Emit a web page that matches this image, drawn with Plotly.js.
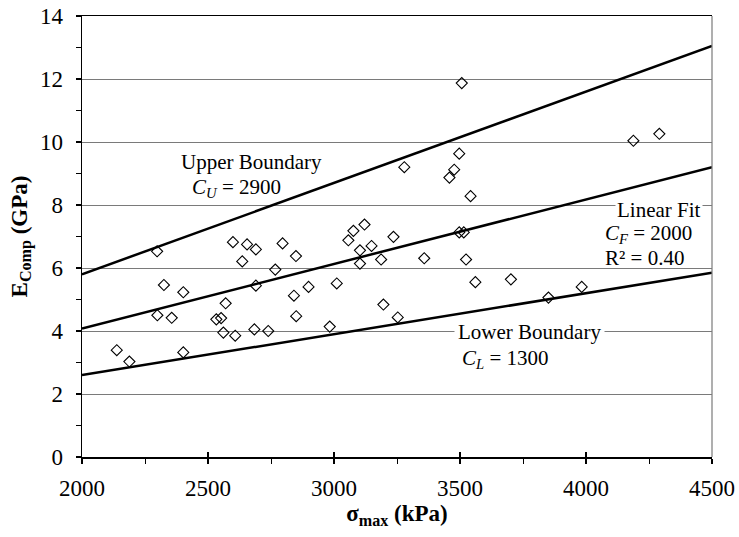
<!DOCTYPE html>
<html><head><meta charset="utf-8">
<script src="https://cdn.plot.ly/plotly-3.0.1.min.js"></script>
<style>html,body{margin:0;padding:0;background:#fff}#chart{width:739px;height:537px}</style>
</head><body><div id="chart"></div>
<script>
// Measured data: sigma_max (kPa) vs E_Comp (GPa)
const sigmaMax = [2138,2188,2298,2299,2325,2356,2402,2402,2533,2552,2561,2570,2599,2608,2636,2655,2684,2690,2690,2739,2767,2796,2841,2849,2850,2899,2983,3011,3057,3077,3103,3103,3121,3149,3187,3196,3236,3253,3279,3358,3458,3477,3497,3497,3507,3515,3524,3542,3561,3702,3851,3983,4188,4291];
const eComp   = [3.39,3.03,6.53,4.50,5.46,4.42,5.23,3.32,4.37,4.41,3.95,4.88,6.82,3.85,6.21,6.75,4.05,6.59,5.44,4.00,5.95,6.78,5.12,6.38,4.47,5.40,4.14,5.51,6.88,7.18,6.56,6.14,7.38,6.70,6.27,4.84,6.99,4.43,9.20,6.31,8.87,9.12,9.63,7.13,11.87,7.13,6.27,8.28,5.55,5.64,5.06,5.40,10.04,10.26];
// Boundary and fit lines (end points)
const lineX = [2000, 4500];
const upperY = [5.80, 13.05];
const fitY = [4.08, 9.20];
const lowerY = [2.60, 5.85];
const xTicks = [2000,2500,3000,3500,4000,4500];
const yTicks = [0,2,4,6,8,10,12,14];

const lineStyle = {color:'#000', width:2.5};
const traces = [
  {x:lineX, y:upperY, mode:'lines', line:lineStyle, hoverinfo:'skip'},
  {x:lineX, y:fitY, mode:'lines', line:lineStyle, hoverinfo:'skip'},
  {x:lineX, y:lowerY, mode:'lines', line:lineStyle, hoverinfo:'skip'},
  {x:sigmaMax, y:eComp, mode:'markers', marker:{symbol:'diamond-open', size:8.5, color:'#000', line:{width:1.1, color:'#000'}}},
  {x:[], y:[], xaxis:'x2', mode:'markers'}
];
const F = 'Liberation Serif';
const annFont = {family:F, size:21, color:'#000'};
const layout = {
  width:739, height:537,
  margin:{l:82, r:27, t:16, b:80},
  paper_bgcolor:'#fff', plot_bgcolor:'#fff',
  showlegend:false,
  font:{family:F, color:'#000'},
  xaxis:{
    range:[2000,4500], tickvals:xTicks, ticktext:xTicks.map(String),
    ticks:'outside', ticklen:5, tickwidth:1.2, tickcolor:'#000',
    minor:{dtick:250, ticks:'outside', ticklen:5, tickwidth:1, tickcolor:'#000', showgrid:false},
    showgrid:false, zeroline:false, showline:true, linecolor:'#000', linewidth:1.5, mirror:true,
    tickfont:{family:F, size:23, color:'#000'}, ticklabelstandoff:5,
    title:{text:'<b>σ<sub>max</sub> (kPa)</b>', font:{family:F, size:23, color:'#000'}, standoff:4}
  },
  xaxis2:{
    overlaying:'x', range:[2000,4500], tickvals:xTicks, showticklabels:false,
    ticks:'inside', ticklen:5, tickwidth:1.2, tickcolor:'#000', anchor:'y', side:'bottom',
    showgrid:false, zeroline:false, showline:false
  },
  yaxis:{
    range:[0,14], tickvals:yTicks, ticktext:yTicks.map(String),
    ticks:'outside', ticklen:5, tickwidth:1.2, tickcolor:'#000',
    minor:{dtick:1, ticks:'outside', ticklen:5, tickwidth:1, tickcolor:'#000', showgrid:false},
    showgrid:true, gridcolor:'#7a7a7a', gridwidth:1,
    zeroline:false, showline:true, linecolor:'#000', linewidth:1.5,
    tickfont:{family:F, size:23, color:'#000'}, ticklabelstandoff:8,
    title:{text:'<b>E<sub>Comp</sub> (GPa)</b>', font:{family:F, size:23, color:'#000'}, standoff:6}
  },
  shapes:[
    {type:'line', xref:'paper', yref:'paper', x0:1, x1:1, y0:0, y1:1, line:{color:'#7a7a7a', width:1.2}}
  ],
  annotations:[
    {x:2671, y:9.36, xref:'x', yref:'y', text:'Upper Boundary', showarrow:false, font:annFont, xanchor:'center'},
    {x:2429, y:8.53, xref:'x', yref:'y', text:'<i>C<sub>U</sub></i> = 2900', showarrow:false, font:annFont, xanchor:'left'},
    {x:4466, y:7.83, xref:'x', yref:'y', text:'Linear Fit', showarrow:false, font:annFont, xanchor:'right', bgcolor:'#fff'},
    {x:4427, y:7.07, xref:'x', yref:'y', text:'<i>C<sub>F</sub></i> = 2000', showarrow:false, font:annFont, xanchor:'right'},
    {x:4395, y:6.31, xref:'x', yref:'y', text:'R² = 0.40', showarrow:false, font:annFont, xanchor:'right'},
    {x:3774, y:3.97, xref:'x', yref:'y', text:'Lower Boundary', showarrow:false, font:annFont, xanchor:'center', bgcolor:'#fff', borderpad:3},
    {x:3500, y:3.11, xref:'x', yref:'y', text:'<i>C<sub>L</sub></i> = 1300', showarrow:false, font:annFont, xanchor:'left'}
  ]
};
Plotly.newPlot('chart', traces, layout, {staticPlot:true, displayModeBar:false});
</script>
</body></html>
